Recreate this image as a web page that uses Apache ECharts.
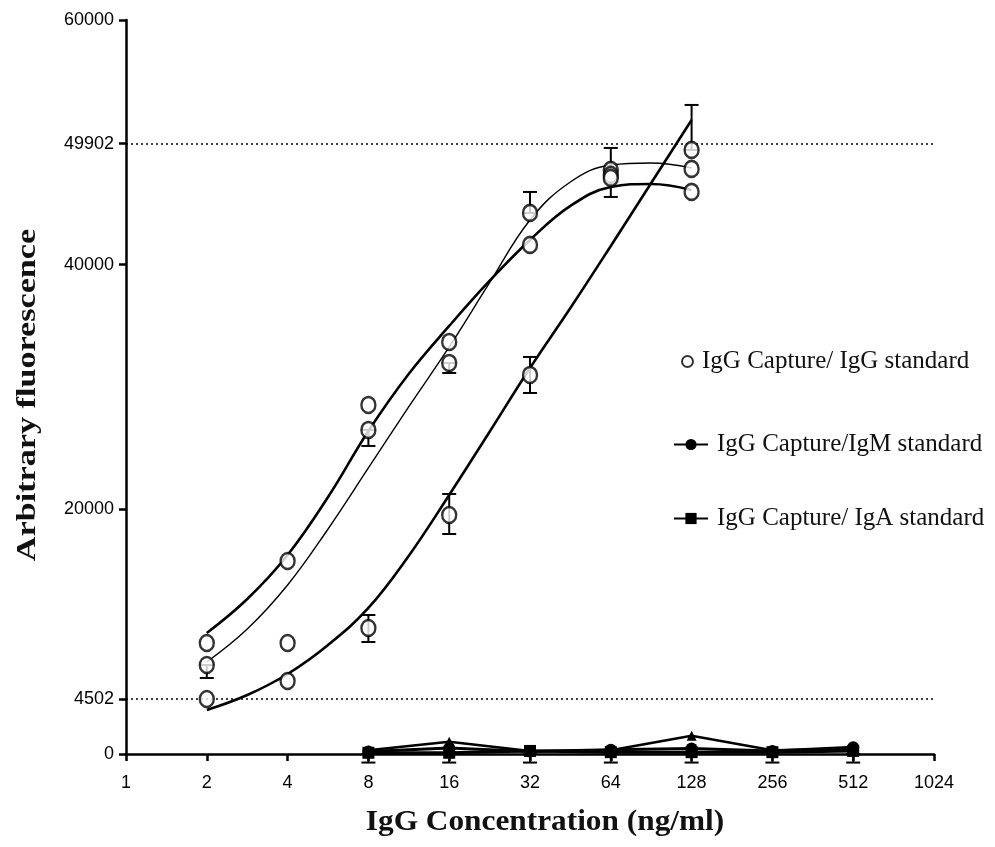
<!DOCTYPE html>
<html>
<head>
<meta charset="utf-8">
<script src="https://cdn.jsdelivr.net/npm/echarts@6/dist/echarts.min.js"></script>
<style>
    html, body { margin: 0; padding: 0; background: #fff; }
    #chart { width: 995px; height: 847px; }
</style>
</head>
<body>
<div id="chart"></div>
<script>
    // x axis (log2) and y axis tick values
    const xTicks = [1, 2, 4, 8, 16, 32, 64, 128, 256, 512, 1024];
    const yTicks = [0, 4502, 20000, 40000, 49902, 60000];
    const refLines = [4502, 49902];

    // IgG standard, three replicate runs (open circles)
    const iggPoints = [
        [2, 9074], [2, 7276], [2, 4496],
        [4, 15778], [4, 9074], [4, 5968],
        [8, 28531], [8, 26487], [8, 10300],
        [16, 33681], [16, 31964], [16, 19538],
        [32, 44227], [32, 41611], [32, 30983],
        [64, 47742], [64, 47333], [64, 47088],
        [128, 49377], [128, 47824], [128, 45944]
    ];
    // error bars: [x, low, high]
    const iggErrors = [
        [2, 6213, 7276],
        [8, 25180, 26487],
        [8, 9156, 11362],
        [16, 31147, 31964],
        [16, 17985, 21255],
        [32, 44227, 45944],
        [32, 29512, 32455],
        [64, 45535, 49541],
        [128, 49377, 53056]
    ];

    // fitted curves (every half doubling)
    const fitX = [2, 2.83, 4, 5.66, 8, 11.3, 16, 22.6, 32, 45.25, 64, 90.5, 128];
    const fitA = [9892, 12671, 16268, 21010, 26405, 31065, 34989, 38668, 42020, 44799, 46352, 46598, 46107];
    const fitB = [7521, 10219, 13816, 18394, 23381, 28367, 33272, 38504, 43655, 46761, 48151, 48314, 47906];
    const fitC = [3597, 4823, 6540, 8911, 11936, 16187, 21173, 26324, 31556, 36461, 41529, 46679, 51830];

    // control standards near zero
    const igmData = [[8, 200], [16, 500], [32, 200], [64, 350], [128, 450], [256, 250], [512, 550]];
    const igaData = [[8, 100], [16, 100], [32, 250], [64, 150], [128, 150], [256, 150], [512, 250]];
    const igmRep = [[8, 300], [16, 1000], [32, 250], [64, 300], [128, 1500], [256, 300], [512, 400]];
    const lowErrors = [
        [8, -700, 0], [16, -700, 0], [32, -700, 0], [64, -700, 0],
        [128, -700, 0], [256, -700, 0], [512, -700, 0]
    ];

    const tickFont = { fontFamily: 'Liberation Sans', fontSize: 18, color: '#000' };
    const legendFont = { fontFamily: 'Liberation Serif', fontSize: 25, color: '#111' };

    function errorBar(params, api) {
        const x = api.value(0);
        const lo = api.coord([x, api.value(1)]);
        const hi = api.coord([x, api.value(2)]);
        const cap = 7;
        const style = { stroke: '#000', lineWidth: 2 };
        return {
            type: 'group',
            children: [
                { type: 'line', shape: { x1: lo[0], y1: lo[1], x2: hi[0], y2: hi[1] }, style: style },
                { type: 'line', shape: { x1: lo[0] - cap, y1: lo[1], x2: lo[0] + cap, y2: lo[1] }, style: style },
                { type: 'line', shape: { x1: hi[0] - cap, y1: hi[1], x2: hi[0] + cap, y2: hi[1] }, style: style }
            ]
        };
    }

    function fitLine(values, width) {
        return {
            type: 'line',
            data: fitX.map((x, i) => [x, values[i]]),
            smooth: 0.4,
            symbol: 'none',
            lineStyle: { color: '#000', width: width },
            z: 3
        };
    }

    const chart = echarts.init(document.getElementById('chart'));
    chart.setOption({
        backgroundColor: '#fff',
        animation: false,
        grid: { left: 126, right: 61, top: 20, bottom: 93 },
        graphic: [
            {
                type: 'text',
                x: 28, y: 395,
                rotation: Math.PI / 2,
                scaleX: 1.22,
                style: {
                    text: 'Arbitrary fluorescence',
                    font: 'bold 28px "Liberation Serif"',
                    fill: '#111',
                    align: 'center',
                    verticalAlign: 'middle'
                }
            },
            {
                type: 'text',
                x: 545, y: 823,
                scaleX: 1.08,
                style: {
                    text: 'IgG Concentration (ng/ml)',
                    font: 'bold 29px "Liberation Serif"',
                    fill: '#111',
                    align: 'center',
                    verticalAlign: 'middle'
                }
            }
        ],
        xAxis: {
            type: 'log',
            logBase: 2,
            min: 1,
            max: 1024,
            axisLine: { lineStyle: { color: '#000', width: 2.5 } },
            axisTick: { length: 7, lineStyle: { color: '#000', width: 2.5 }, customValues: xTicks },
            axisLabel: Object.assign({ margin: 20, customValues: xTicks, formatter: v => String(Math.round(v)) }, tickFont),
            splitLine: { show: false }
        },
        yAxis: {
            type: 'value',
            min: 0,
            max: 60000,
            axisLine: { show: true, lineStyle: { color: '#000', width: 2.5 } },
            axisTick: { show: true, length: 7, lineStyle: { color: '#000', width: 2.5 }, customValues: yTicks },
            axisLabel: Object.assign({ margin: 12, customValues: yTicks, formatter: v => String(v) }, tickFont),
            splitLine: { show: false }
        },
        legend: [
            {
                data: ['IgG Capture/ IgG standard'],
                left: 676, top: 344,
                itemWidth: 11, itemHeight: 12,
                textStyle: Object.assign({ padding: [0, 0, 0, 4] }, legendFont)
            },
            {
                data: ['IgG Capture/IgM standard'],
                left: 668, top: 427,
                itemWidth: 34, itemHeight: 14,
                textStyle: Object.assign({ padding: [0, 0, 0, 4] }, legendFont)
            },
            {
                data: ['IgG Capture/ IgA standard'],
                left: 668, top: 501,
                itemWidth: 34, itemHeight: 14,
                textStyle: Object.assign({ padding: [0, 0, 0, 4] }, legendFont)
            }
        ],
        series: [
            {
                type: 'line',
                data: [],
                markLine: {
                    silent: true,
                    symbol: 'none',
                    label: { show: false },
                    lineStyle: { color: '#000', type: [2, 3], width: 1.5 },
                    data: refLines.map(v => ({ yAxis: v }))
                }
            },
            fitLine(fitA, 2.6),
            fitLine(fitB, 1.4),
            fitLine(fitC, 2.6),
            {
                type: 'custom',
                renderItem: errorBar,
                data: iggErrors.concat(lowErrors),
                z: 4
            },
            {
                name: 'IgG Capture/ IgG standard',
                type: 'scatter',
                data: iggPoints,
                symbol: 'circle',
                symbolSize: [14, 16],
                itemStyle: { color: '#fff', borderColor: '#000', borderWidth: 2.5 },
                z: 5
            },
            {
                type: 'line',
                data: igmRep,
                symbol: 'triangle',
                symbolSize: 10,
                itemStyle: { color: '#000' },
                lineStyle: { color: '#000', width: 2.5 },
                z: 5
            },
            {
                name: 'IgG Capture/IgM standard',
                type: 'line',
                data: igmData,
                symbol: 'circle',
                symbolSize: 12,
                itemStyle: { color: '#000' },
                lineStyle: { color: '#000', width: 3 },
                z: 5
            },
            {
                name: 'IgG Capture/ IgA standard',
                type: 'line',
                data: igaData,
                symbol: 'rect',
                symbolSize: 12,
                itemStyle: { color: '#000' },
                lineStyle: { color: '#000', width: 3 },
                z: 5
            }
        ]
    });
</script>
</body>
</html>
